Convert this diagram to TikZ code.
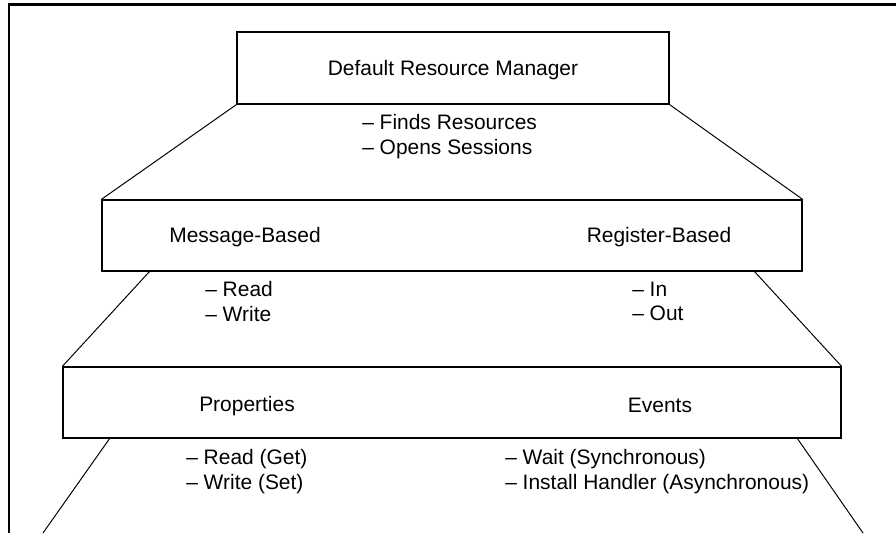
\documentclass[tikz,border=0pt]{standalone}
\usepackage{fontspec}
\setmainfont{Liberation Sans}
\tikzset{
  layerbox/.style={draw,line width=0.9pt,inner sep=0pt,minimum height=1.775cm},
  itemlist/.style={align=left,inner sep=0pt,anchor=west},
  funnel/.style={line width=0.7pt},
  frameline/.style={line width=1.8pt}
}

\begin{document}
\begin{tikzpicture}[x=1cm,y=1cm,every node/.style={font=\fontsize{14.9}{17.5}\selectfont}]
  \useasboundingbox (0,0) rectangle (22.4,13.325);
  \draw[frameline] (0.22,0) -- (0.22,13.21) -- (22.4,13.21);

  % top layer
  \node[layerbox,minimum width=10.8cm,minimum height=1.8cm,text depth=0pt] (drm) at (11.325,11.625) {Default Resource Manager};
  \node[itemlist] (drmops) at (9.05,9.9125) {– Finds Resources\\– Opens Sessions};

  % middle layer
  \node[layerbox,minimum width=17.5cm] (io) at (11.3,7.4375) {};
  \node (msg) at (6.125,7.39) {Message-Based};
  \node (reg) at (16.475,7.39) {Register-Based};
  \node[itemlist] (msgops) at (5.125,5.7875) {– Read\\– Write};
  \node[itemlist] (regops) at (15.8,5.7875) {– In\\– Out};

  % bottom layer
  \node[layerbox,minimum width=19.45cm] (attr) at (11.3,3.2625) {};
  \node (prop) at (6.175,3.17) {Properties};
  \node (evt) at (16.5,3.2) {Events};
  \node[itemlist] (propops) at (4.65,1.5375) {– Read (Get)\\– Write (Set)};
  \node[itemlist] (evtops) at (12.625,1.5375) {– Wait (Synchronous)\\– Install Handler (Asynchronous)};

  \coordinate (iol) at (3.75,6.55);
  \coordinate (ior) at (18.85,6.55);
  \coordinate (attrl) at (2.75,2.375);
  \coordinate (attrr) at (19.925,2.375);
  \coordinate (footl) at (1.075,0);
  \coordinate (footr) at (21.575,0);

  \draw[funnel] (drm.south west) -- (io.north west);
  \draw[funnel] (drm.south east) -- (io.north east);
  \draw[funnel] (iol) -- (attr.north west);
  \draw[funnel] (ior) -- (attr.north east);
  \draw[funnel] (attrl) -- (footl);
  \draw[funnel] (attrr) -- (footr);
\end{tikzpicture}
\end{document}
